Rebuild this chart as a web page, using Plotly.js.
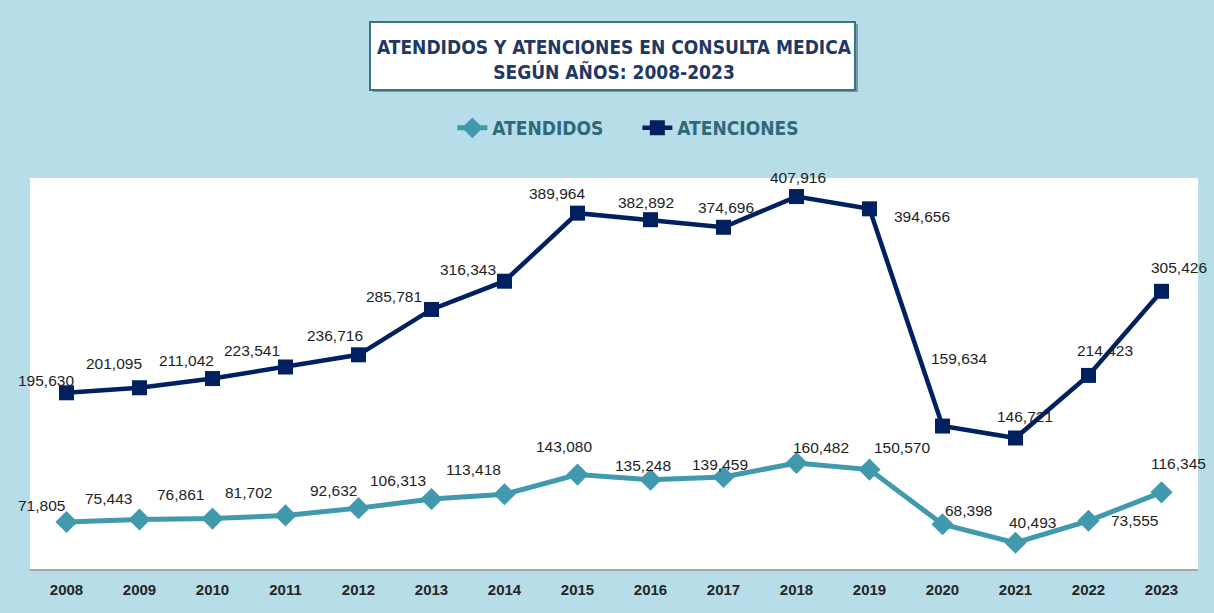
<!DOCTYPE html>
<html>
<head>
<meta charset="utf-8">
<script src="https://cdn.plot.ly/plotly-3.0.1.min.js"></script>
<style>html,body{margin:0;padding:0;background:#b7dde8;}#chart{width:1214px;height:613px;}</style>
</head>
<body>
<div id="chart"></div>
<script>
// ---- data ----
const years = ["2008","2009","2010","2011","2012","2013","2014","2015","2016","2017","2018","2019","2020","2021","2022","2023"];
const atendidos = [71805,75443,76861,81702,92632,106313,113418,143080,135248,139459,160482,150570,68398,40493,73555,116345];
const atenciones = [195630,201095,211042,223541,236716,285781,316343,389964,382892,374696,407916,394656,159634,146721,214423,305426];

// ---- label offsets (screen px, relative to marker; dy positive = down) ----
const offAtencionesX = [-21,-26,-26,-34,-24,-38,-37,-21,-5,2,1,52,16,9,16,17];
const offAtencionesY = [-12,-24,-18,-16,-19,-13,-12,-20,-17,-20,-19,8,-68,-22,-25,-24];
const offAtendidosX = [-25,-31,-32,-37,-25,-34,-31,-14,-8,-4,24,32,26,17,46,17];
const offAtendidosY = [-16,-21,-24,-23,-18,-19,-25,-28,-14,-13,-16,-22,-14,-20,0,-29];

const fmt = v => v.toLocaleString('en-US');
const labelFont = () => ({family: 'Liberation Sans, Arial, sans-serif', size: 15.5, color: '#1e1e1e'});

const annotations = [];
years.forEach((yr, i) => {
  // x given as category index (category axis)
  annotations.push({x: i, y: atenciones[i], xref: 'x', yref: 'y', text: fmt(atenciones[i]),
    showarrow: false, xanchor: 'center', yanchor: 'middle',
    xshift: offAtencionesX[i], yshift: -offAtencionesY[i], font: labelFont()});
  annotations.push({x: i, y: atendidos[i], xref: 'x', yref: 'y2', text: fmt(atendidos[i]),
    showarrow: false, xanchor: 'center', yanchor: 'middle',
    xshift: offAtendidosX[i], yshift: -offAtendidosY[i], font: labelFont()});
});

const traces = [
  {x: years, y: atendidos, name: 'ATENDIDOS', type: 'scatter', mode: 'lines+markers', yaxis: 'y2',
   line: {color: '#4199ae', width: 5}, marker: {symbol: 'diamond', size: 17, color: '#4199ae'}},
  {x: years, y: atenciones, name: 'ATENCIONES', type: 'scatter', mode: 'lines+markers', yaxis: 'y',
   line: {color: '#002060', width: 4.5}, marker: {symbol: 'square', size: 15, color: '#002060'}}
];

const layout = {
  width: 1214, height: 613,
  paper_bgcolor: '#b7dde8', plot_bgcolor: '#ffffff',
  margin: {l: 30, r: 16, t: 178, b: 44, pad: 0},
  showlegend: true,
  title: {
    text: 'ATENDIDOS Y ATENCIONES EN CONSULTA MEDICA<br>SEGÚN AÑOS: 2008-2023',
    x: 0.5, xref: 'paper', xanchor: 'center',
    y: 0.912, yref: 'container', yanchor: 'middle',
    font: {family: 'DejaVu Sans Condensed', size: 19, color: '#1f3864', weight: 'bold'}
  },
  legend: {
    orientation: 'h', x: 0.520, xanchor: 'center', y: 1.128, yanchor: 'middle',
    bgcolor: 'rgba(0,0,0,0)', entrywidth: 140, entrywidthmode: 'pixels',
    font: {family: 'DejaVu Sans Condensed', size: 19, color: '#31697a', weight: 'bold'}
  },
  xaxis: {
    type: 'category', range: [-0.5, 15.5], fixedrange: true,
    showgrid: false, zeroline: false,
    showline: true, linecolor: '#a6a6a6', linewidth: 1.5,
    ticks: '', ticklabelstandoff: 6,
    tickfont: {family: 'Liberation Sans, Arial, sans-serif', size: 15, color: '#262626', weight: 'bold'}
  },
  yaxis: {range: [5000, 428000], visible: false, showgrid: false, zeroline: false, fixedrange: true},
  yaxis2: {range: [1100, 589100], overlaying: 'y', side: 'right', visible: false, showgrid: false, zeroline: false, fixedrange: true},
  shapes: [
    {type: 'rect', xref: 'paper', yref: 'paper', x0: 0.2937, x1: 0.7089, y0: 1.220, y1: 1.394,
     fillcolor: '#7a9aa3', line: {width: 0}, layer: 'below'},
    {type: 'rect', xref: 'paper', yref: 'paper', x0: 0.2911, x1: 0.7063, y0: 1.225, y1: 1.399,
     fillcolor: '#ffffff', line: {color: '#3a7484', width: 2}, layer: 'below'}
  ],
  annotations: annotations
};

Plotly.newPlot('chart', traces, layout, {displayModeBar: false, staticPlot: true});
</script>
</body>
</html>
